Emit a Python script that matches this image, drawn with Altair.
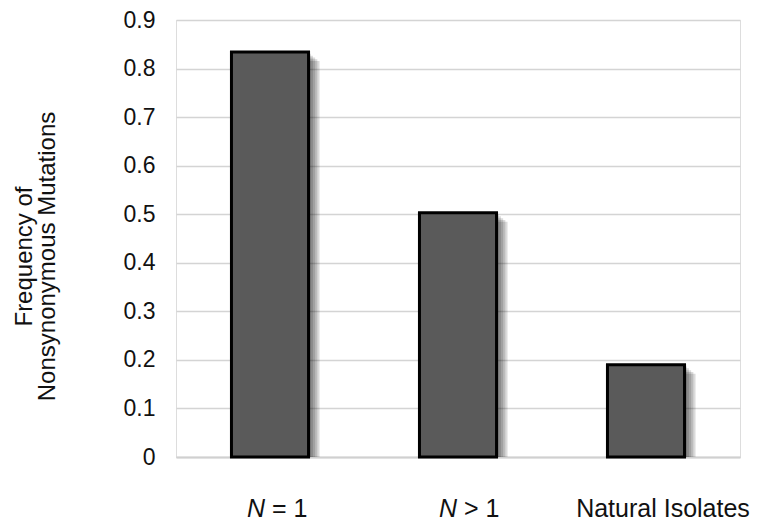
import altair as alt
import pandas as pd

categories = ["N = 1", "N > 1", "Natural Isolates"]
values = [0.834, 0.503, 0.19]
label_italic = ["N", "N", ""]
label_rest = ["= 1", "> 1", "Natural Isolates"]
y_ticks = [0, 0.1, 0.2, 0.3, 0.4, 0.5, 0.6, 0.7, 0.8, 0.9]

df = pd.DataFrame({"cat": categories, "val": values,
                   "it": label_italic, "rest": label_rest})

FONT = "Liberation Sans"
FS = 25

xenc = alt.X("cat:N", sort=categories,
             scale=alt.Scale(paddingInner=0.59, paddingOuter=0.295),
             axis=alt.Axis(title=None, labels=False, ticks=False,
                           domainColor="#d0d0d0", domainWidth=2, grid=False))
yenc = alt.Y("val:Q", scale=alt.Scale(domain=[0, 0.9], nice=False),
             axis=alt.Axis(values=y_ticks, format=".1~f", ticks=False, domain=False,
                           labelFont=FONT, labelFontSize=23, labelColor="#111",
                           labelPadding=21, gridColor="#d4d4d4", gridWidth=1.5,
                           title=["Frequency of", "Nonsynonymous Mutations"],
                           titleFont=FONT, titleFontSize=24, titleFontWeight="normal",
                           titleColor="#111", titleAngle=-90, titleAlign="center",
                           titleBaseline="alphabetic", titleX=-145, titleY=236,
                           titleLineHeight=23))

base = alt.Chart(df)

layers = []
for i in range(1, 6):
    layers.append(base.mark_bar(color="black", opacity=0.14, xOffset=2.2 * i,
                                yOffset=1.8 * i, clip=True)
                  .encode(x=xenc, y=yenc, y2=alt.datum(0)))

bars = base.mark_bar(color="#5a5a5a", stroke="black", strokeWidth=3).encode(
    x=xenc, y=yenc, y2=alt.datum(0))
layers.append(bars)

LABEL_Y = 497
xl = alt.X("cat:N", sort=categories)
italic_dx = [-5, -1]
rest_dx = [2, 6]
for k in range(2):
    row = df.iloc[k:k + 1]
    layers.append(alt.Chart(row).mark_text(font=FONT, fontSize=FS, fontStyle="italic",
                                           align="right", baseline="alphabetic",
                                           dx=italic_dx[k], color="#111").encode(
        x=xl, y=alt.value(LABEL_Y), text="it:N"))
    layers.append(alt.Chart(row).mark_text(font=FONT, fontSize=FS, align="left",
                                           baseline="alphabetic", dx=rest_dx[k],
                                           color="#111").encode(
        x=xl, y=alt.value(LABEL_Y), text="rest:N"))
layers.append(alt.Chart(df.iloc[2:]).mark_text(font=FONT, fontSize=FS, align="center",
                                               baseline="alphabetic", dx=17,
                                               color="#111").encode(
    x=xl, y=alt.value(LABEL_Y), text="rest:N"))

chart = alt.layer(*layers).properties(
    width=564, height=437,
    autosize=alt.AutoSizeParams(type="none"),
    padding={"left": 168, "top": 12, "right": 12, "bottom": 67},
).configure_view(stroke="#8c8c8c", strokeWidth=2).configure(background="white")

chart.save("out.html", embed_options={"renderer": "svg", "actions": False})
